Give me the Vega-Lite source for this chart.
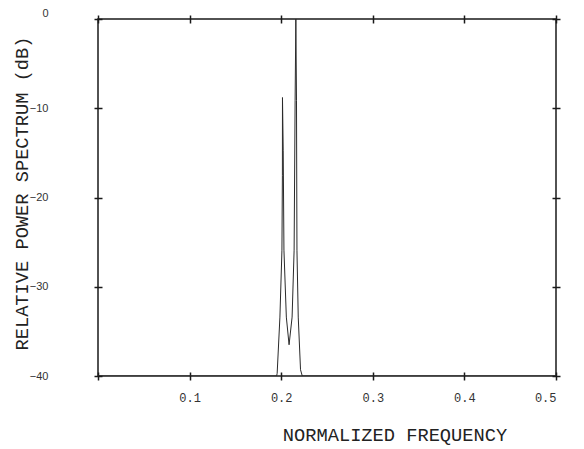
{
  "$schema": "https://vega.github.io/schema/vega-lite/v6.json",
  "width": 458,
  "height": 357,
  "autosize": "none",
  "padding": {"left": 98, "top": 19, "right": 28, "bottom": 73},
  "background": "white",
  "config": {
    "view": {"stroke": "#1a1a1a", "strokeWidth": 1.5},
    "axis": {
      "domain": false,
      "grid": false,
      "tickColor": "#1a1a1a",
      "tickWidth": 1.5,
      "tickSize": 8,
      "offset": -4,
      "labelFont": "Liberation Mono",
      "labelFontSize": 12,
      "labelColor": "#333333",
      "titleFont": "Liberation Mono",
      "titleFontSize": 18.7,
      "titleFontWeight": "normal",
      "titleColor": "#222222"
    }
  },
  "data": {
    "values": [
      {"frequency": 0.0, "power_db": -40},
      {"frequency": 0.195, "power_db": -40},
      {"frequency": 0.1956, "power_db": -39.7},
      {"frequency": 0.1986, "power_db": -33.4},
      {"frequency": 0.2008, "power_db": -25.9},
      {"frequency": 0.2013, "power_db": -17.5},
      {"frequency": 0.2014, "power_db": -8.8},
      {"frequency": 0.2022, "power_db": -14.7},
      {"frequency": 0.203, "power_db": -25.9},
      {"frequency": 0.2056, "power_db": -33.4},
      {"frequency": 0.2086, "power_db": -36.5},
      {"frequency": 0.2119, "power_db": -33.4},
      {"frequency": 0.2141, "power_db": -25.9},
      {"frequency": 0.2152, "power_db": -9.1},
      {"frequency": 0.216, "power_db": 0},
      {"frequency": 0.2167, "power_db": -9.1},
      {"frequency": 0.2172, "power_db": -25.9},
      {"frequency": 0.2186, "power_db": -33.4},
      {"frequency": 0.2211, "power_db": -39.3},
      {"frequency": 0.223, "power_db": -40},
      {"frequency": 0.5, "power_db": -40}
    ]
  },
  "layer": [
    {
      "mark": {"type": "line", "stroke": "#2a2a2a", "strokeWidth": 1, "clip": true},
      "encoding": {
        "x": {
          "field": "frequency",
          "type": "quantitative",
          "scale": {"domain": [0, 0.5], "nice": false, "zero": false},
          "axis": {
            "orient": "bottom",
            "values": [0, 0.1, 0.2, 0.3, 0.4, 0.5],
            "labelExpr": "datum.value == 0 ? '' : format(datum.value, '.1f')",
            "labelPadding": 12,
            "labelBaseline": "top",
            "title": "NORMALIZED FREQUENCY",
            "titleX": 296.5,
            "titleY": 62,
            "titleAnchor": null,
            "titleAlign": "center",
            "titleBaseline": "middle"
          }
        },
        "y": {
          "field": "power_db",
          "type": "quantitative",
          "scale": {"domain": [-40, 0], "nice": false, "zero": false},
          "axis": {
            "orient": "left",
            "values": [-40, -30, -20, -10, 0],
            "format": "d",
            "labelFont": "Liberation Sans",
            "labelFontSize": 11,
            "labelPadding": 46,
            "labelAlign": "right",
            "labelOffset": {"condition": {"test": "datum.value == 0", "value": -6}, "value": 0},
            "title": "RELATIVE POWER SPECTRUM (dB)",
            "titleX": -81,
            "titleY": 174,
            "titleAngle": -90,
            "titleAlign": "center",
            "titleBaseline": "middle"
          }
        }
      }
    },
    {
      "mark": {"type": "line", "strokeOpacity": 0},
      "encoding": {
        "x": {
          "field": "frequency",
          "type": "quantitative",
          "scale": {"domain": [0, 0.5], "nice": false, "zero": false},
          "axis": {"orient": "top", "values": [0, 0.1, 0.2, 0.3, 0.4, 0.5], "labels": false, "title": null}
        },
        "y": {
          "field": "power_db",
          "type": "quantitative",
          "scale": {"domain": [-40, 0], "nice": false, "zero": false},
          "axis": {"orient": "right", "values": [-40, -30, -20, -10, 0], "labels": false, "title": null}
        }
      }
    }
  ],
  "resolve": {"axis": {"x": "independent", "y": "independent"}}
}
